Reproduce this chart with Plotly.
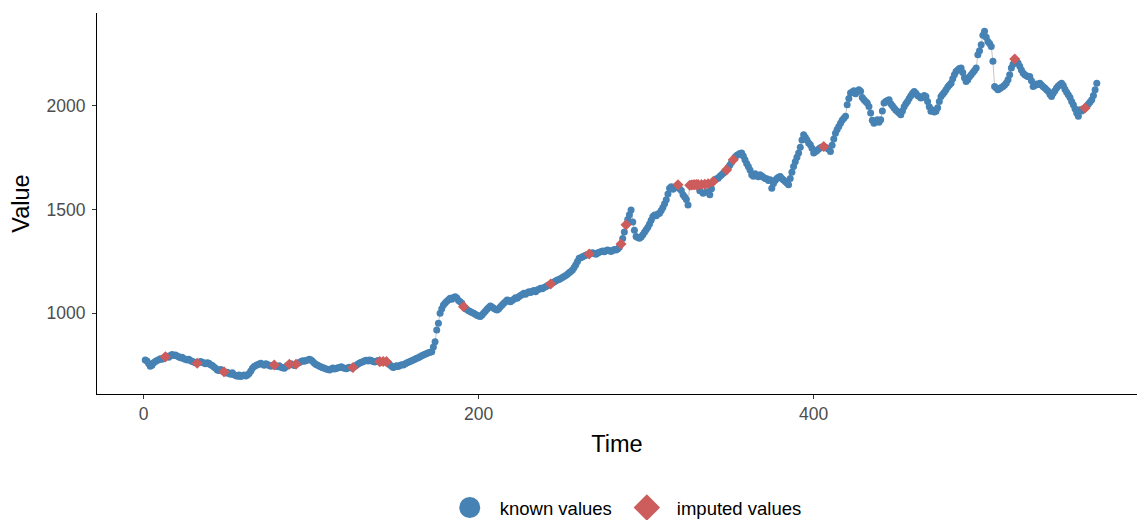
import plotly.graph_objects as go

# ---- data ----
values = [
    775, 770, 758, 745, 750, 762, 768, 772, 776, 781,
    779, 784, 790, 793, 788, 797, 801, 796, 799, 794,
    790, 786, 788, 781, 778, 775, 779, 772, 768, 765,
    762, 759, 763, 768, 764, 760, 757, 761, 759, 752,
    748, 741, 735, 727, 724, 729, 722, 718, 712, 716,
    710, 706, 713, 704, 700, 697, 702, 695, 699, 703,
    698, 702, 710, 722, 735, 743, 748, 752, 756, 759,
    754, 750, 757, 753, 748, 745, 749, 751, 746, 743,
    747, 740, 738, 735, 742, 749, 754, 757, 752, 748,
    754, 759, 763, 768, 771, 769, 773, 775, 778, 775,
    768, 759, 753, 749, 745, 741, 738, 735, 731, 729,
    727, 732, 736, 731, 734, 737, 739, 742, 738, 735,
    733, 737, 740, 736, 739, 745, 750, 755, 760, 764,
    767, 771, 774, 770, 775, 772, 768, 765, 769, 772,
    767, 764, 768, 766, 767, 760, 752, 745, 739, 742,
    747, 744, 748, 752, 751, 756, 760, 764, 768, 771,
    775, 779, 783, 786, 790, 795, 799, 802, 806, 810,
    812, 815, 838, 863, 919, 952, 1000, 1022, 1040, 1050,
    1058, 1065, 1072, 1068, 1076, 1080, 1074, 1062, 1055, 1048,
    1032, 1025, 1018, 1012, 1008, 1004, 1000, 995, 990, 987,
    984, 992, 1001, 1010, 1020, 1028, 1035, 1030, 1024, 1020,
    1016, 1022, 1031, 1040, 1048, 1056, 1064, 1060, 1056, 1062,
    1068, 1075, 1072, 1080, 1086, 1090, 1096, 1092, 1099, 1104,
    1100, 1106, 1110, 1104, 1112, 1116, 1120, 1118, 1124, 1128,
    1133, 1137, 1141, 1146, 1151, 1156, 1160, 1163, 1168, 1172,
    1177, 1182, 1188, 1195, 1201, 1209, 1220, 1234, 1250, 1265,
    1268, 1272, 1276, 1280, 1283, 1286, 1289, 1292, 1288, 1285,
    1290, 1294, 1297, 1300, 1296, 1301, 1305, 1302, 1298, 1303,
    1307, 1305, 1310, 1318, 1334, 1360, 1392, 1426, 1452, 1475,
    1498, 1440, 1400, 1370, 1365, 1362, 1368, 1378, 1390, 1402,
    1415, 1430, 1448, 1466, 1474, 1470, 1478, 1482, 1495, 1510,
    1528, 1547, 1575, 1603, 1610, 1598, 1605, 1612, 1619, 1600,
    1592, 1571, 1560, 1548, 1522, 1617, 1618, 1619, 1619, 1620,
    1620, 1590, 1621, 1578, 1622, 1585, 1624, 1571, 1600, 1635,
    1642, 1648, 1651, 1660, 1668, 1675, 1683, 1691, 1702, 1715,
    1728, 1740, 1752, 1760, 1765, 1770, 1772, 1758, 1740, 1722,
    1707, 1690, 1667, 1660, 1672, 1665, 1658, 1667, 1662, 1655,
    1650, 1648, 1640, 1643, 1603, 1625, 1640, 1650, 1655, 1659,
    1650, 1642, 1635, 1628, 1619, 1650, 1680, 1707, 1730, 1752,
    1772, 1800, 1835, 1860, 1848, 1835, 1820, 1812, 1795, 1772,
    1778, 1785, 1792, 1798, 1801, 1804, 1800, 1795, 1790, 1780,
    1810, 1840, 1868, 1885, 1900, 1916, 1930, 1940, 1949, 2005,
    2035, 2061, 2066, 2072, 2058, 2068, 2077, 2070, 2040, 2029,
    2020, 2013, 1997, 1965, 1930, 1916, 1925, 1932, 1920, 1932,
    1975, 2013, 2020, 2025, 2029, 2010, 2000, 1989, 1980, 1972,
    1965, 1957, 1975, 1995, 2010, 2021, 2035, 2048, 2060, 2069,
    2060, 2050, 2045, 2037, 2040, 2050, 2045, 2020, 1995, 1973,
    1980, 1970, 1973, 1990, 2020, 2045, 2055, 2065, 2077, 2090,
    2100, 2109, 2130, 2150, 2165, 2172, 2180, 2182, 2160, 2135,
    2117, 2125, 2140, 2150, 2160, 2170, 2182, 2246, 2265, 2294,
    2340, 2359, 2330, 2310, 2300, 2286, 2214, 2093, 2085, 2077,
    2082, 2088, 2093, 2100, 2110, 2125, 2150, 2182, 2200, 2225,
    2215, 2206, 2190, 2172, 2158, 2150, 2145, 2140, 2141, 2120,
    2093, 2098, 2105, 2102, 2109, 2100, 2092, 2085, 2077, 2070,
    2055, 2045, 2060, 2072, 2085, 2095, 2102, 2109, 2098, 2080,
    2065, 2053, 2040, 2020, 2005, 1985, 1965, 1949, 1981, 1975,
    1985, 1989, 1998, 2008, 2018, 2029, 2050, 2077, 2109,
]
imputed_times = [13, 32, 48, 78, 87, 91, 125, 141, 143, 145, 191, 243, 266,
                 285, 288, 319, 326, 327, 328, 329, 330, 331, 333, 335, 337,
                 340, 348, 352, 406, 520, 562]
x_ticks = [0, 200, 400]
y_ticks = [1000, 1500, 2000]

times = list(range(1, len(values) + 1))
imp_set = set(imputed_times)
known_x = [t for t in times if t not in imp_set]
known_y = [values[t - 1] for t in known_x]
imp_x = [t for t in times if t in imp_set]
imp_y = [values[t - 1] for t in imp_x]

BLUE = "#4682B4"
RED = "#CD5C5C"
FONT = "Liberation Sans, Arial, sans-serif"

fig = go.Figure()
fig.add_trace(go.Scatter(x=times, y=values, mode="lines",
                         line=dict(color="rgba(60,60,60,0.5)", width=0.6),
                         showlegend=False, hoverinfo="skip"))
fig.add_trace(go.Scatter(x=known_x, y=known_y, mode="markers",
                         marker=dict(color=BLUE, size=7, symbol="circle"),
                         showlegend=False))
fig.add_trace(go.Scatter(x=imp_x, y=imp_y, mode="markers",
                         marker=dict(color=RED, size=8.5, symbol="diamond"),
                         showlegend=False))
# legend entries
fig.add_trace(go.Scatter(x=[None], y=[None], mode="markers", name="known values",
                         marker=dict(color=BLUE, size=16, symbol="circle",
                                     line=dict(color=BLUE, width=5))))
fig.add_trace(go.Scatter(x=[None], y=[None], mode="markers", name="imputed values",
                         marker=dict(color=RED, size=16, symbol="diamond",
                                     line=dict(color=RED, width=4))))

axis_common = dict(showgrid=False, zeroline=False, showline=True,
                   linecolor="black", linewidth=1.1, ticks="outside",
                   ticklen=4, tickcolor="#333333", tickwidth=1,
                   tickfont=dict(family=FONT, size=17.5, color="#4D4D4D"))

fig.update_layout(
    width=1137, height=520,
    margin=dict(l=97, r=0, t=13, b=126, autoexpand=False),
    paper_bgcolor="white", plot_bgcolor="white",
    font=dict(family=FONT),
    xaxis=dict(range=[-27.8, 593], tickvals=x_ticks,
               title=dict(text="Time", font=dict(family=FONT, size=23.5, color="black"),
                          standoff=12),
               **axis_common),
    yaxis=dict(range=[611, 2447], tickvals=y_ticks, ticklabelstandoff=3,
               title=dict(text="Value", font=dict(family=FONT, size=23.5, color="black"),
                          standoff=10),
               **axis_common),
    legend=dict(orientation="h", x=0.506, xanchor="center", xref="paper",
                y=(520 - 508) / 520, yref="container", yanchor="middle",
                font=dict(family=FONT, size=18.5, color="black"),
                itemsizing="trace", itemwidth=50),
)

fig.write_html("out.html")
